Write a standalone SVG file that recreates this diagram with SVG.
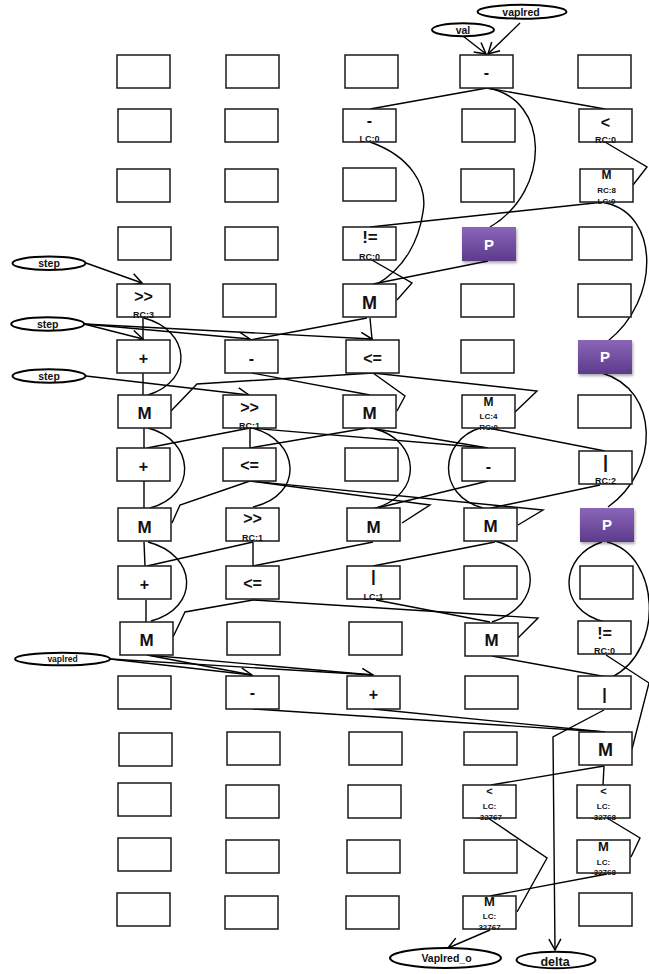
<svg xmlns="http://www.w3.org/2000/svg" width="649" height="974" viewBox="0 0 649 974">
<defs>
<style>
.b{fill:#fff;stroke:#1a1a1a;stroke-width:1.5}
.p{fill:url(#pg);filter:url(#sh)}
.t{font-family:"Liberation Sans",Arial,sans-serif;font-weight:bold;fill:#111;text-anchor:middle}
.pt{font-family:"Liberation Sans",Arial,sans-serif;font-weight:bold;fill:#fff;text-anchor:middle;font-size:15px}
.op{font-size:16px}
.m{font-size:17px}
.sm{font-size:12px}
.s{font-size:9px}
.xs{font-size:8px}
.e{fill:#fff;stroke:#000;stroke-width:2}
.et{font-size:10.5px}
.l{fill:none;stroke:#000;stroke-width:1.4}
.a{marker-end:url(#arr)}
</style>
<linearGradient id="pg" x1="0" y1="0" x2="0" y2="1">
<stop offset="0" stop-color="#8a66b9"/>
<stop offset="1" stop-color="#5d3a8b"/>
</linearGradient>
<filter id="sh" x="-20%" y="-20%" width="140%" height="150%">
<feDropShadow dx="1" dy="2" stdDeviation="1.5" flood-color="#000" flood-opacity="0.35"/>
</filter>
<marker id="arr" markerWidth="14" markerHeight="14" refX="12" refY="7" orient="auto" markerUnits="userSpaceOnUse">
<path d="M1,1 L12,7 L1,13" fill="none" stroke="#000" stroke-width="1.5"/>
</marker>
</defs>
<rect width="649" height="974" fill="#fff"/>

<g id="connectors">
<path class="l a" d="M463,36 L486,54"/>
<path class="l a" d="M520,23 L488,54"/>
<path class="l" d="M487,88 L370,109"/>
<path class="l" d="M487,88 L605,109"/>
<path class="l" d="M487,88 C550,98 552,190 490,227"/>
<path class="l" d="M370,142 C410,156 428,185 423,212 C419,240 405,268 377,284"/>
<path class="l" d="M605,142 L647,167 L633,185"/>
<path class="l" d="M604,202 L370,227"/>
<path class="l" d="M606,203 C660,215 660,300 608,341"/>
<path class="l" d="M370,259 L412,283 L397,300"/>
<path class="l" d="M488,261 L373,284"/>
<path class="l a" d="M86,263 L142,283"/>
<path class="l a" d="M84,324 L143,339"/>
<path class="l a" d="M84,324 L250,339"/>
<path class="l a" d="M84,324 L372,339"/>
<path class="l a" d="M86,376 L249,395"/>
<path class="l" d="M143,318 L143,340"/>
<path class="l" d="M144,318 C190,330 195,380 148,395"/>
<path class="l" d="M370,318 L372,339"/>
<path class="l" d="M367,318 L250,340"/>
<path class="l" d="M143,373 L143,395"/>
<path class="l" d="M252,373 L370,395"/>
<path class="l" d="M373,373 L197,384 L171,411"/>
<path class="l" d="M373,373 L405,396 L397,411"/>
<path class="l" d="M373,373 L537,391 L515,412"/>
<path class="l" d="M602,373 C660,390 660,470 608,507"/>
<path class="l" d="M144,428 L144,448"/>
<path class="l" d="M148,428 C195,440 198,495 150,508"/>
<path class="l" d="M250,428 L147,448"/>
<path class="l" d="M250,428 L250,448"/>
<path class="l" d="M252,428 C300,440 305,495 253,507"/>
<path class="l" d="M250,428 L488,448"/>
<path class="l" d="M367,428 L250,448"/>
<path class="l" d="M370,428 L488,448"/>
<path class="l" d="M375,429 C420,440 425,495 373,509"/>
<path class="l" d="M480,428 C440,440 435,495 483,508"/>
<path class="l" d="M488,428 L605,451"/>
<path class="l" d="M144,481 L144,508"/>
<path class="l" d="M250,481 L180,505 L172,523"/>
<path class="l" d="M250,481 L430,505 L402,523"/>
<path class="l" d="M250,481 L543,510 L518,525"/>
<path class="l" d="M488,481 L373,509"/>
<path class="l" d="M600,485 L491,508"/>
<path class="l" d="M144,542 L145,566"/>
<path class="l" d="M148,542 C198,555 200,608 151,621"/>
<path class="l" d="M253,542 L147,566"/>
<path class="l" d="M253,542 L253,566"/>
<path class="l" d="M373,542 L253,566"/>
<path class="l" d="M495,542 L373,566"/>
<path class="l" d="M495,541 C540,552 545,605 492,622"/>
<path class="l" d="M602,542 C560,555 555,610 605,622"/>
<path class="l" d="M607,542 C660,555 665,650 612,677"/>
<path class="l" d="M146,600 L146,622"/>
<path class="l" d="M253,600 L185,612 L173,637"/>
<path class="l" d="M253,600 L538,618 L518,638"/>
<path class="l" d="M376,600 L490,622"/>
<path class="l" d="M147,655 L252,675"/>
<path class="l" d="M147,655 L373,675"/>
<path class="l a" d="M110,659 L252,675"/>
<path class="l a" d="M110,659 L373,675"/>
<path class="l" d="M492,656 L607,677"/>
<path class="l" d="M606,655 L649,683 L632,749"/>
<path class="l" d="M253,709 L605,732"/>
<path class="l" d="M373,709 L605,732"/>
<path class="l a" d="M604,710 L553,737 L555,950"/>
<path class="l" d="M604,766 L603,785"/>
<path class="l" d="M604,766 L491,785"/>
<path class="l" d="M488,818 L547,858 L517,912"/>
<path class="l" d="M607,818 L640,838 L631,857"/>
<path class="l" d="M607,874 L490,896"/>
<path class="l a" d="M490,930 L448,948"/>
</g>

<g id="in_val"><ellipse class="e" cx="463" cy="29.7" rx="31" ry="6.5"/><text class="t et" x="463" y="33.5">val</text></g>
<g id="in_vaplred"><ellipse class="e" cx="522" cy="11.7" rx="44.5" ry="7"/><text class="t et" x="521" y="15.5">vaplred</text></g>
<g id="in_step1"><ellipse class="e" cx="49" cy="263.3" rx="36.5" ry="6.7"/><text class="t et" x="49" y="267">step</text></g>
<g id="in_step2"><ellipse class="e" cx="47.7" cy="324" rx="36.5" ry="6.7"/><text class="t et" x="47.7" y="327.7">step</text></g>
<g id="in_step3"><ellipse class="e" cx="49" cy="376" rx="36.5" ry="6.7"/><text class="t et" x="49" y="379.7">step</text></g>
<g id="in_vaplred2"><ellipse class="e" cx="62.5" cy="659" rx="47.5" ry="6.3"/><text class="t" style="font-size:8.5px" x="62.5" y="662">vaplred</text></g>
<g id="out_vaplred_o"><ellipse class="e" cx="445.5" cy="958" rx="55.5" ry="10"/><text class="t" style="font-size:10.5px" x="446.5" y="962">Vaplred_o</text></g>
<g id="out_delta"><ellipse class="e" cx="556" cy="960" rx="39.5" ry="8.3"/><text class="t" style="font-size:12.5px" x="555" y="965.5">delta</text></g>

<g id="r1c1"><rect class="b" x="117" y="55" width="53" height="33"/></g>
<g id="r1c2"><rect class="b" x="226" y="55" width="53" height="33"/></g>
<g id="r1c3"><rect class="b" x="345" y="55" width="53" height="33"/></g>
<g id="r1c4"><rect class="b" x="460" y="55" width="53" height="33"/><text class="t op" x="486.5" y="78">-</text></g>
<g id="r1c5"><rect class="b" x="578" y="55" width="53" height="33"/></g>
<g id="r2c1"><rect class="b" x="118" y="109" width="53" height="33"/></g>
<g id="r2c2"><rect class="b" x="225" y="109" width="53" height="33"/></g>
<g id="r2c3"><rect class="b" x="343" y="109" width="53" height="33"/><text class="t op" x="369.5" y="126">-</text><text class="t s" x="369.5" y="142">LC:0</text></g>
<g id="r2c4"><rect class="b" x="462" y="109" width="53" height="33"/></g>
<g id="r2c5"><rect class="b" x="579" y="109" width="53" height="33"/><text class="t op" x="605.5" y="128">&lt;</text><text class="t s" x="605.5" y="142.5">RC:0</text></g>
<g id="r3c1"><rect class="b" x="117" y="169" width="53" height="33"/></g>
<g id="r3c2"><rect class="b" x="225" y="169" width="53" height="33"/></g>
<g id="r3c3"><rect class="b" x="343" y="168" width="53" height="33"/></g>
<g id="r3c4"><rect class="b" x="461" y="169" width="53" height="33"/></g>
<g id="r3c5"><rect class="b" x="580" y="169" width="53" height="33"/><text class="t sm" x="606.5" y="178.5">M</text><text class="t xs" x="606.5" y="192.5">RC:8</text><text class="t xs" x="606.5" y="203.5">LC:0</text></g>
<g id="r4c1"><rect class="b" x="118" y="227" width="53" height="33"/></g>
<g id="r4c2"><rect class="b" x="225" y="227" width="53" height="33"/></g>
<g id="r4c3"><rect class="b" x="343" y="227" width="53" height="33"/><text class="t m" x="370" y="243">!=</text><text class="t s" x="369.5" y="260">RC:0</text></g>
<g id="r4c4"><rect class="p" x="462" y="227" width="54" height="34"/><text class="pt" x="489" y="249.5">P</text></g>
<g id="r4c5"><rect class="b" x="579" y="227" width="53" height="33"/></g>
<g id="r5c1"><rect class="b" x="117" y="284" width="53" height="33"/><text class="t op" x="143.5" y="302">&gt;&gt;</text><text class="t s" x="143.5" y="317.5">RC:3</text></g>
<g id="r5c2"><rect class="b" x="223" y="284" width="53" height="33"/></g>
<g id="r5c3"><rect class="b" x="343" y="284" width="53" height="33"/><text class="t" style="font-size:18px" x="369.5" y="308.5">M</text></g>
<g id="r5c4"><rect class="b" x="461" y="284" width="53" height="33"/></g>
<g id="r5c5"><rect class="b" x="578" y="284" width="53" height="33"/></g>
<g id="r6c1"><rect class="b" x="117" y="340" width="53" height="33"/><text class="t op" x="143.5" y="364">+</text></g>
<g id="r6c2"><rect class="b" x="225" y="340" width="53" height="33"/><text class="t op" x="251.5" y="364">-</text></g>
<g id="r6c3"><rect class="b" x="346" y="340" width="53" height="33"/><text class="t op" x="372.5" y="364">&lt;=</text></g>
<g id="r6c4"><rect class="b" x="461" y="340" width="53" height="33"/></g>
<g id="r6c5"><rect class="p" x="578" y="340" width="54" height="34"/><text class="pt" x="605" y="362">P</text></g>
<g id="r7c1"><rect class="b" x="118" y="395" width="53" height="33"/><text class="t m" x="144.5" y="419">M</text></g>
<g id="r7c2"><rect class="b" x="223" y="395" width="53" height="33"/><text class="t op" x="249.5" y="413">&gt;&gt;</text><text class="t s" x="249.5" y="428.5">RC:1</text></g>
<g id="r7c3"><rect class="b" x="343" y="395" width="53" height="33"/><text class="t m" x="369.5" y="419">M</text></g>
<g id="r7c4"><rect class="b" x="462" y="395" width="53" height="33"/><text class="t sm" x="488.5" y="406">M</text><text class="t xs" x="488.5" y="418.5">LC:4</text><text class="t xs" x="488.5" y="430">RC:0</text></g>
<g id="r7c5"><rect class="b" x="578" y="395" width="53" height="33"/></g>
<g id="r8c1"><rect class="b" x="117" y="448" width="53" height="33"/><text class="t op" x="143.5" y="472">+</text></g>
<g id="r8c2"><rect class="b" x="223" y="448" width="53" height="33"/><text class="t op" x="249.5" y="471">&lt;=</text></g>
<g id="r8c3"><rect class="b" x="345" y="448" width="53" height="33"/></g>
<g id="r8c4"><rect class="b" x="462" y="448" width="53" height="33"/><text class="t op" x="488.5" y="471.5">-</text></g>
<g id="r8c5"><rect class="b" x="579" y="451" width="53" height="33"/><text class="t" style="font-size:18px" x="605.5" y="468">|</text><text class="t s" x="605.5" y="483.5">RC:2</text></g>
<g id="r9c1"><rect class="b" x="118" y="508" width="53" height="33"/><text class="t m" x="144.5" y="532.5">M</text></g>
<g id="r9c2"><rect class="b" x="226" y="508" width="53" height="33"/><text class="t op" x="252.5" y="524">&gt;&gt;</text><text class="t s" x="252.5" y="541">RC:1</text></g>
<g id="r9c3"><rect class="b" x="347" y="508" width="53" height="33"/><text class="t m" x="373.5" y="532.5">M</text></g>
<g id="r9c4"><rect class="b" x="464" y="508" width="53" height="33"/><text class="t m" x="490.5" y="532">M</text></g>
<g id="r9c5"><rect class="p" x="580" y="508" width="54" height="34"/><text class="pt" x="607" y="530">P</text></g>
<g id="r10c1"><rect class="b" x="118" y="566" width="53" height="33"/><text class="t op" x="144.5" y="590">+</text></g>
<g id="r10c2"><rect class="b" x="226" y="566" width="53" height="33"/><text class="t op" x="252.5" y="589">&lt;=</text></g>
<g id="r10c3"><rect class="b" x="347" y="566" width="53" height="33"/><text class="t" style="font-size:17px" x="373.5" y="582">|</text><text class="t s" x="373.5" y="599.5">LC:1</text></g>
<g id="r10c4"><rect class="b" x="464" y="566" width="53" height="33"/></g>
<g id="r10c5"><rect class="b" x="580" y="566" width="53" height="33"/></g>
<g id="r11c1"><rect class="b" x="120" y="622" width="53" height="33"/><text class="t m" x="146.5" y="646">M</text></g>
<g id="r11c2"><rect class="b" x="227" y="622" width="53" height="33"/></g>
<g id="r11c3"><rect class="b" x="349" y="622" width="53" height="33"/></g>
<g id="r11c4"><rect class="b" x="465" y="623" width="53" height="33"/><text class="t m" x="491.5" y="646">M</text></g>
<g id="r11c5"><rect class="b" x="578" y="621" width="53" height="33"/><text class="t op" x="604.5" y="639">!=</text><text class="t s" x="604.5" y="653.5">RC:0</text></g>
<g id="r12c1"><rect class="b" x="118" y="676" width="53" height="33"/></g>
<g id="r12c2"><rect class="b" x="226" y="676" width="53" height="33"/><text class="t op" x="252.5" y="698">-</text></g>
<g id="r12c3"><rect class="b" x="347" y="676" width="53" height="33"/><text class="t op" x="373.5" y="700">+</text></g>
<g id="r12c4"><rect class="b" x="465" y="676" width="53" height="33"/></g>
<g id="r12c5"><rect class="b" x="578" y="676" width="53" height="33"/><text class="t op" x="604.5" y="700">|</text></g>
<g id="r13c1"><rect class="b" x="119" y="733" width="53" height="33"/></g>
<g id="r13c2"><rect class="b" x="227" y="732" width="53" height="33"/></g>
<g id="r13c3"><rect class="b" x="349" y="732" width="53" height="33"/></g>
<g id="r13c4"><rect class="b" x="464" y="732" width="53" height="33"/></g>
<g id="r13c5"><rect class="b" x="579" y="732" width="53" height="33"/><text class="t" style="font-size:18px" x="605.5" y="756">M</text></g>
<g id="r14c1"><rect class="b" x="118" y="783" width="53" height="33"/></g>
<g id="r14c2"><rect class="b" x="226" y="785" width="53" height="33"/></g>
<g id="r14c3"><rect class="b" x="348" y="785" width="53" height="33"/></g>
<g id="r14c4"><rect class="b" x="463" y="785" width="53" height="33"/><text class="t" style="font-size:11px" x="489.5" y="795">&lt;</text><text class="t xs" x="489.5" y="809">LC:</text><text class="t xs" x="489.5" y="820">-32767</text></g>
<g id="r14c5"><rect class="b" x="577" y="785" width="53" height="33"/><text class="t" style="font-size:11px" x="603.5" y="795">&lt;</text><text class="t xs" x="603.5" y="809">LC:</text><text class="t xs" x="603.5" y="820">-32768</text></g>
<g id="r15c1"><rect class="b" x="118" y="838" width="53" height="33"/></g>
<g id="r15c2"><rect class="b" x="226" y="840" width="53" height="33"/></g>
<g id="r15c3"><rect class="b" x="347" y="840" width="53" height="33"/></g>
<g id="r15c4"><rect class="b" x="464" y="840" width="53" height="33"/></g>
<g id="r15c5"><rect class="b" x="577" y="840" width="53" height="33"/><text class="t" style="font-size:13px" x="603.5" y="851">M</text><text class="t xs" x="603.5" y="864.5">LC:</text><text class="t xs" x="603.5" y="875">-32768</text></g>
<g id="r16c1"><rect class="b" x="117" y="893" width="53" height="33"/></g>
<g id="r16c2"><rect class="b" x="225" y="896" width="53" height="33"/></g>
<g id="r16c3"><rect class="b" x="346" y="896" width="53" height="33"/></g>
<g id="r16c4"><rect class="b" x="463" y="896" width="53" height="33"/><text class="t" style="font-size:13px" x="489.5" y="906">M</text><text class="t xs" x="489.5" y="919">LC:</text><text class="t xs" x="489.5" y="930">32767</text></g>
<g id="r16c5"><rect class="b" x="579" y="893" width="53" height="33"/></g>
</svg>
